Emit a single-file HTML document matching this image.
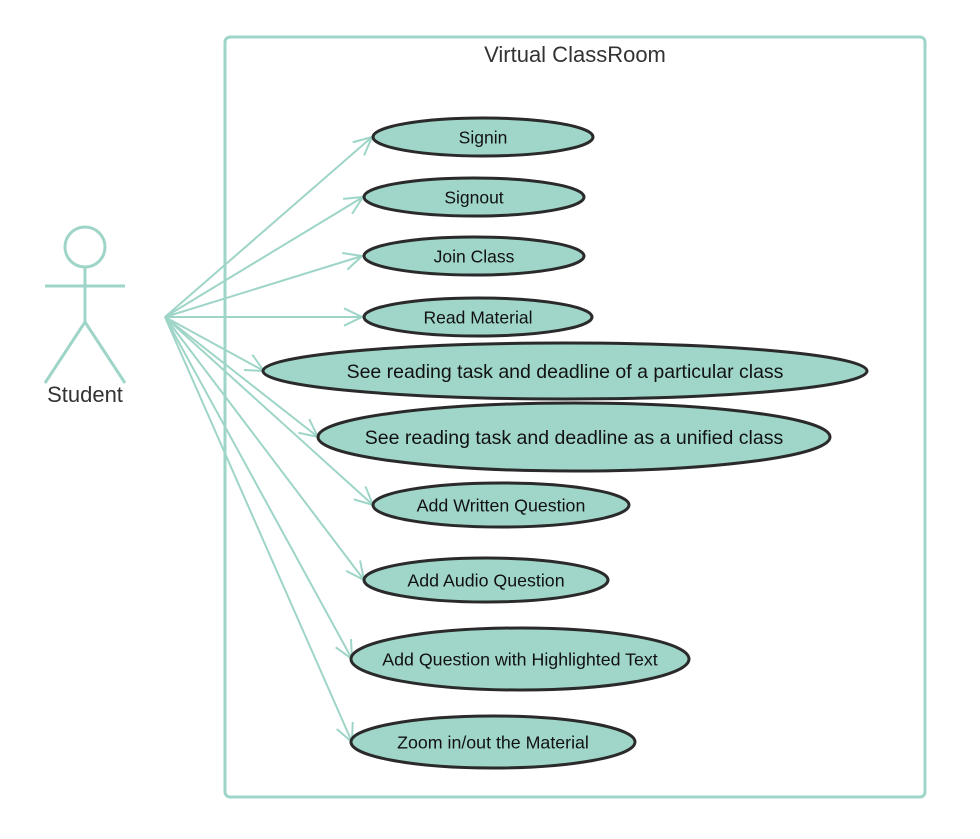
<!DOCTYPE html>
<html><head><meta charset="utf-8"><style>
html,body{margin:0;padding:0;background:#fff;width:980px;height:839px;overflow:hidden}
svg{display:block}
text{font-family:"Liberation Sans",sans-serif}
</style></head><body>
<svg id="s" width="980" height="839" viewBox="0 0 980 839" xmlns="http://www.w3.org/2000/svg">
<rect x="225" y="37" width="700" height="760" rx="5" fill="none" stroke="#9ed5c8" stroke-width="3"/>
<text x="575" y="62" font-size="22" fill="#333" text-anchor="middle">Virtual ClassRoom</text>
<g stroke="#9ed5c8" stroke-width="3" fill="none">
<circle cx="85" cy="247" r="20"/>
<line x1="85" y1="267" x2="85" y2="322"/>
<line x1="45" y1="286" x2="125" y2="286"/>
<line x1="85" y1="322" x2="45" y2="383"/>
<line x1="85" y1="322" x2="125" y2="383"/>
</g>
<text x="85" y="402" font-size="22" fill="#333" text-anchor="middle">Student</text>
<g id="arrows" stroke="#9ed5c8" stroke-width="2" fill="none"></g>
<g id="ells" fill="#9fd6c9" stroke="#2a2a2a" stroke-width="3"></g>
<g id="labels" fill="#111" text-anchor="middle"></g>
</svg>
<script>
var E=[
[483,137,110,19,"Signin",17.5,372,137],
[474,197,110,19,"Signout",17.5,363,197],
[474,256,110,19,"Join Class",17.5,362,256],
[478,317,114,19,"Read Material",17.5,362,317],
[565,371,302,28,"See reading task and deadline of a particular class",19.5,264,371],
[574,437,256,34,"See reading task and deadline as a unified class",19.5,318,437],
[501,505,128,22,"Add Written Question",17.8,373,505],
[486,580,122,22,"Add Audio Question",17.8,364,580],
[520,659,169,31,"Add Question with Highlighted Text",17.8,352,659],
[493,742,142,26,"Zoom in/out the Material",17.8,352,742]];
var NS="http://www.w3.org/2000/svg",ox=165,oy=317;
function el(t,a,p,txt){var e=document.createElementNS(NS,t);for(var k in a)e.setAttribute(k,a[k]);if(txt)e.textContent=txt;document.getElementById(p).appendChild(e);}
E.forEach(function(d){
 var tx=d[6],ty=d[7];
 el("line",{x1:ox,y1:oy,x2:tx,y2:ty},"arrows");
 var a=Math.atan2(ty-oy,tx-ox),L=20,w=0.45;
 el("polyline",{points:(tx-L*Math.cos(a-w))+","+(ty-L*Math.sin(a-w))+" "+tx+","+ty+" "+(tx-L*Math.cos(a+w))+","+(ty-L*Math.sin(a+w))},"arrows");
 el("ellipse",{cx:d[0],cy:d[1],rx:d[2],ry:d[3]},"ells");
 el("text",{x:d[0],y:d[1]+d[5]*0.36,"font-size":d[5]},"labels",d[4]);
});
</script>
</body></html>
